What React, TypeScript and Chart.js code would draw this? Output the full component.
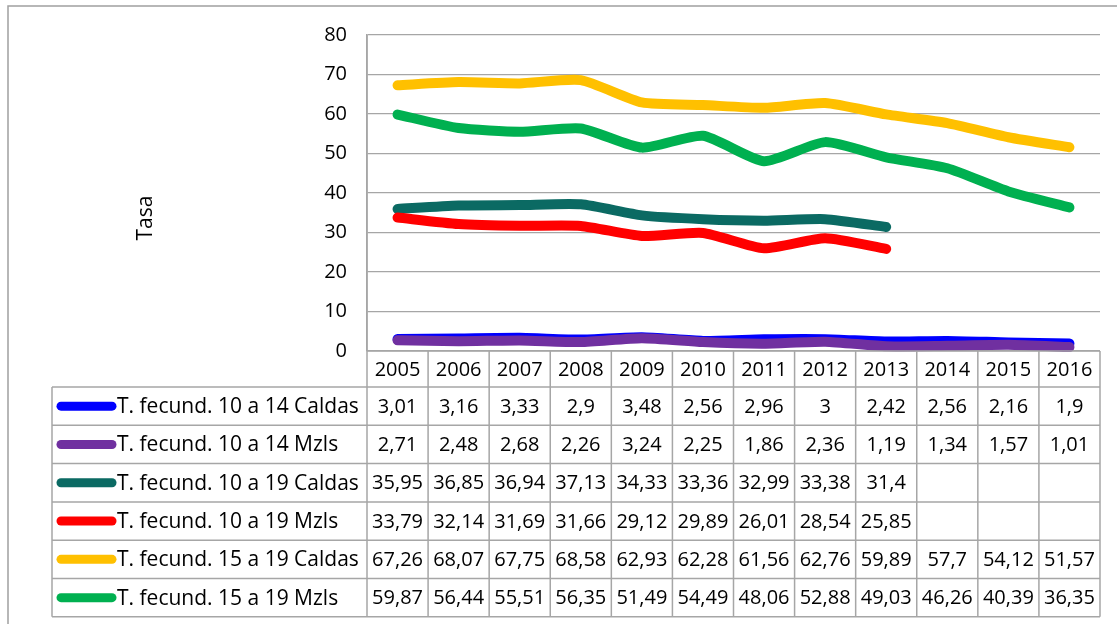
import React, { useEffect, useRef } from "react";
import { Chart, registerables } from "chart.js";

Chart.register(...registerables);

const years = ["2005", "2006", "2007", "2008", "2009", "2010", "2011", "2012", "2013", "2014", "2015", "2016"];
const yTicks = [0, 10, 20, 30, 40, 50, 60, 70, 80];
const seriesNames = [
  "T. fecund. 10 a 14 Caldas",
  "T. fecund. 10 a 14 Mzls",
  "T. fecund. 10 a 19 Caldas",
  "T. fecund. 10 a 19 Mzls",
  "T. fecund. 15 a 19 Caldas",
  "T. fecund. 15 a 19 Mzls",
];
const caldas10a14 = [3.01, 3.16, 3.33, 2.9, 3.48, 2.56, 2.96, 3, 2.42, 2.56, 2.16, 1.9];
const mzls10a14 = [2.71, 2.48, 2.68, 2.26, 3.24, 2.25, 1.86, 2.36, 1.19, 1.34, 1.57, 1.01];
const caldas10a19 = [35.95, 36.85, 36.94, 37.13, 34.33, 33.36, 32.99, 33.38, 31.4, null, null, null];
const mzls10a19 = [33.79, 32.14, 31.69, 31.66, 29.12, 29.89, 26.01, 28.54, 25.85, null, null, null];
const caldas15a19 = [67.26, 68.07, 67.75, 68.58, 62.93, 62.28, 61.56, 62.76, 59.89, 57.7, 54.12, 51.57];
const mzls15a19 = [59.87, 56.44, 55.51, 56.35, 51.49, 54.49, 48.06, 52.88, 49.03, 46.26, 40.39, 36.35];
const seriesColors = ["#0000FF", "#7030A0", "#0B6A63", "#FF0000", "#FFC000", "#00B050"];
const allSeries = [caldas10a14, mzls10a14, caldas10a19, mzls10a19, caldas15a19, mzls15a19];
const axisTitle = "Tasa";

const FONT_FAMILY = "'Open Sans', sans-serif";
const NUM_SIZE = 20;
const TEXT_SIZE = 21;
const GRID = "#A6A6A6";

const fmt = (v: number | null) => (v === null || v === undefined ? "" : String(v).replace(".", ","));

const tablePlugin = {
  id: "dataTable",
  afterDraw(chart: any) {
    const ctx = chart.ctx as CanvasRenderingContext2D;
    const area = chart.chartArea;
    const xs = chart.scales.x;
    const n = years.length;
    const colW = (area.right - area.left) / n;
    const headerTop = area.bottom;
    const headerBottom = area.bottom + 36;
    const rowH = 38.3;
    const tableBottom = headerBottom + rowH * allSeries.length;
    const legLeft = area.left - 315;

    ctx.save();
    // outer frame
    ctx.strokeStyle = "#A0A0A0";
    ctx.lineWidth = 1.5;
    ctx.strokeRect(8, 6, 1300, 800);

    // table grid
    ctx.strokeStyle = GRID;
    ctx.lineWidth = 1.5;
    ctx.beginPath();
    ctx.moveTo(area.left, headerTop);
    ctx.lineTo(area.right, headerTop);
    for (let r = 0; r <= allSeries.length; r++) {
      const y = headerBottom + r * rowH;
      ctx.moveTo(legLeft, y);
      ctx.lineTo(area.right, y);
    }
    ctx.moveTo(legLeft, headerBottom);
    ctx.lineTo(legLeft, tableBottom);
    ctx.moveTo(area.left, area.top);
    ctx.lineTo(area.left, tableBottom);
    for (let c = 1; c <= n; c++) {
      const x = area.left + c * colW;
      ctx.moveTo(x, headerTop);
      ctx.lineTo(x, tableBottom);
    }
    ctx.stroke();

    ctx.fillStyle = "#000";
    ctx.font = `${NUM_SIZE}px ${FONT_FAMILY}`;
    ctx.textBaseline = "middle";
    ctx.textAlign = "center";
    years.forEach((yr, i) => {
      ctx.fillText(yr, xs.getPixelForValue(i), (headerTop + headerBottom) / 2 + 1);
    });
    allSeries.forEach((s, r) => {
      const cy = headerBottom + r * rowH + rowH / 2 + 1;
      ctx.font = `${NUM_SIZE}px ${FONT_FAMILY}`;
      ctx.textAlign = "center";
      s.forEach((v, i) => {
        ctx.fillText(fmt(v), xs.getPixelForValue(i), cy);
      });
      ctx.strokeStyle = seriesColors[r];
      ctx.lineWidth = 9;
      ctx.lineCap = "round";
      ctx.beginPath();
      ctx.moveTo(legLeft + 9, cy - 1);
      ctx.lineTo(legLeft + 60, cy - 1);
      ctx.stroke();
      ctx.font = `${TEXT_SIZE}px ${FONT_FAMILY}`;
      ctx.textAlign = "left";
      ctx.fillText(seriesNames[r], legLeft + 65, cy);
    });

    ctx.save();
    ctx.font = `${TEXT_SIZE}px ${FONT_FAMILY}`;
    ctx.translate(146, 218);
    ctx.rotate(-Math.PI / 2);
    ctx.textAlign = "center";
    ctx.textBaseline = "middle";
    ctx.fillText(axisTitle, 0, 0);
    ctx.restore();
    ctx.restore();
  },
};

export default function App() {
  const ref = useRef<HTMLCanvasElement | null>(null);
  useEffect(() => {
    if (!ref.current) return;
    const chart = new Chart(ref.current, {
      type: "line",
      data: {
        labels: years,
        datasets: allSeries.map((s, i) => ({
          label: seriesNames[i],
          data: s,
          borderColor: seriesColors[i],
          backgroundColor: seriesColors[i],
          borderWidth: 10,
          borderCapStyle: "round",
          borderJoinStyle: "round",
          pointRadius: 0,
          tension: 0.2,
          spanGaps: false,
          order: allSeries.length - i,
          clip: 6,
        })) as any,
      },
      options: {
        animation: false,
        responsive: false,
        devicePixelRatio: 1,
        layout: { padding: { left: 307, right: 17, top: 35, bottom: 273 } },
        plugins: { legend: { display: false }, tooltip: { enabled: false } },
        scales: {
          x: { type: "category", offset: true, display: false },
          y: {
            min: 0,
            max: 80,
            afterBuildTicks: (scale: any) => {
              scale.ticks = yTicks.map((v) => ({ value: v }));
            },
            afterFit: (scale: any) => {
              scale.width = 60;
            },
            grid: { color: GRID, lineWidth: 1.2, drawTicks: false },
            border: { display: true, color: GRID, width: 1.5 },
            ticks: {
              padding: 20,
              color: "#000",
              font: { family: FONT_FAMILY, size: NUM_SIZE },
            },
          },
        },
      },
      plugins: [tablePlugin],
    });
    return () => chart.destroy();
  }, []);
  return (
    <div style={{ position: "absolute", left: 0, top: 0, width: 1117, height: 624, background: "#fff" }}>
      <canvas ref={ref} width={1117} height={624} style={{ display: "block" }} />
    </div>
  );
}
